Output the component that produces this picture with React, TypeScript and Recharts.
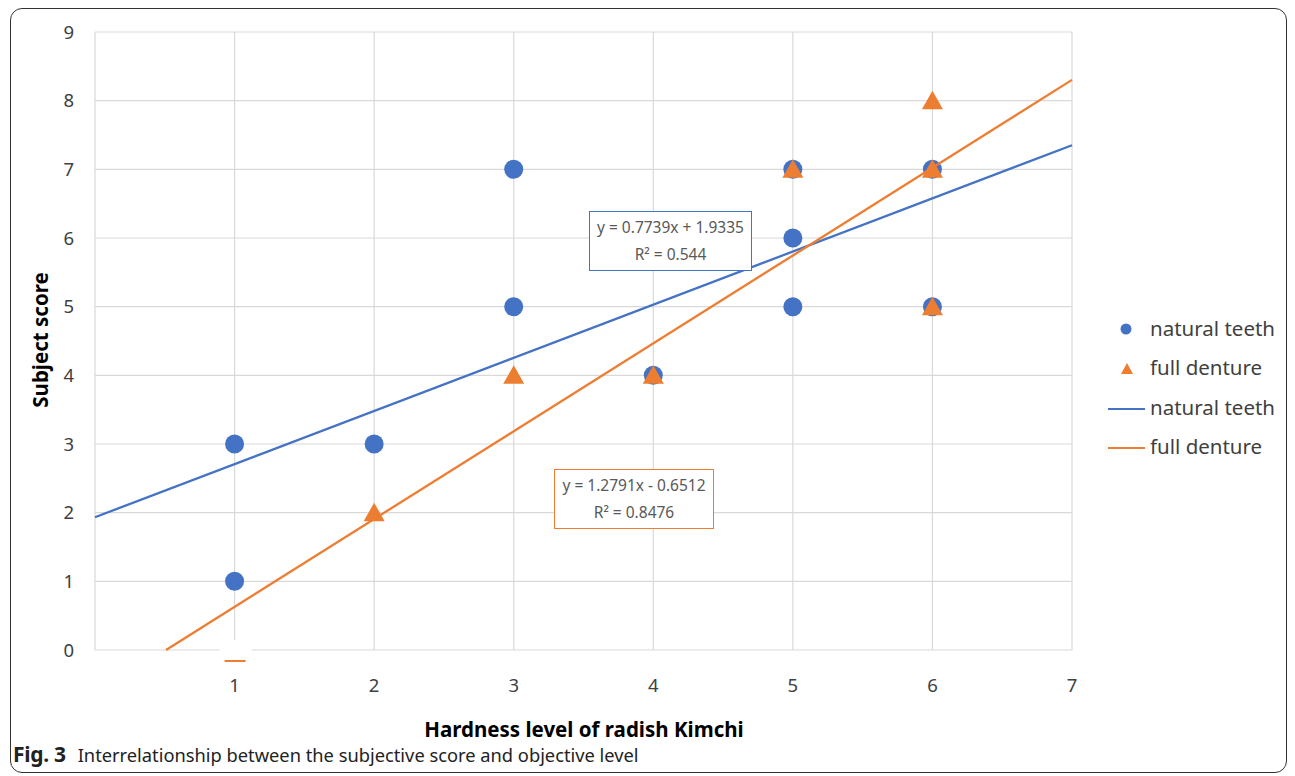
import React from 'react'
import { ScatterChart, Scatter, XAxis, YAxis, CartesianGrid } from 'recharts'

// observed scores
const naturalTeeth = [
  { x: 1, y: 3 }, { x: 1, y: 1 }, { x: 2, y: 3 }, { x: 3, y: 7 }, { x: 3, y: 5 },
  { x: 4, y: 4 }, { x: 5, y: 7 }, { x: 5, y: 6 }, { x: 5, y: 5 }, { x: 6, y: 7 }, { x: 6, y: 5 },
]
const fullDenture = [
  { x: 1, y: 0 }, { x: 2, y: 2 }, { x: 3, y: 4 }, { x: 4, y: 4 },
  { x: 5, y: 7 }, { x: 6, y: 8 }, { x: 6, y: 7 }, { x: 6, y: 5 },
]

// linear trendline end points (from the fitted equations)
const naturalTrend = [{ x: 0, y: 1.9335 }, { x: 7, y: 7.3508 }]
const dentureTrend = [{ x: 0.5091, y: 0 }, { x: 7, y: 8.3025 }]

const xTicks = [0, 1, 2, 3, 4, 5, 6, 7]
const yTicks = [0, 1, 2, 3, 4, 5, 6, 7, 8, 9]

const BLUE = '#4472C4'
const ORANGE = '#ED7D31'
const FONT = '"Noto Sans", "Open Sans", sans-serif'

const Circle = (props: any) => <circle cx={props.cx} cy={props.cy} r={9.5} fill={BLUE} />

const Triangle = (props: any) => {
  const { cx, cy, payload } = props
  if (payload && payload.y === 0) {
    // the marker sitting on the axis is mostly hidden in the original
    return (
      <g>
        <rect x={cx - 15} y={cy - 10} width={32} height={16} fill="#fff" />
        <line x1={cx - 10} x2={cx + 11} y1={cy + 11} y2={cy + 11} stroke={ORANGE} strokeWidth={2} />
      </g>
    )
  }
  return <polygon points={`${cx},${cy - 10} ${cx + 10.5},${cy + 8.5} ${cx - 10.5},${cy + 8.5}`} fill={ORANGE} />
}

const NoDot = () => <g />

const boxText: React.CSSProperties = {
  position: 'absolute',
  fontFamily: FONT,
  fontSize: 15.5,
  color: '#595959',
  textAlign: 'center',
  lineHeight: '27px',
  background: '#fff',
  boxSizing: 'border-box',
  paddingTop: 2,
  whiteSpace: 'nowrap',
}

const legendText: React.CSSProperties = {
  position: 'absolute',
  left: 1150,
  fontFamily: FONT,
  fontSize: 20.5,
  color: '#404040',
  lineHeight: '22px',
}

export default function App() {
  return (
    <div style={{ position: 'absolute', left: 0, top: 0, width: 1295, height: 776, background: '#fff', overflow: 'hidden' }}>
      <div
        style={{
          position: 'absolute', left: 10, top: 8, width: 1277, height: 765,
          border: '1.3px solid #333', borderRadius: 12, boxSizing: 'border-box',
        }}
      />
      <div style={{ position: 'absolute', left: 0, top: 0 }}>
        <ScatterChart width={1295} height={776} margin={{ top: 32, right: 223, bottom: 86, left: 35 }}>
          <CartesianGrid stroke="#d9d9d9" strokeWidth={1.2} />
          <XAxis
            type="number"
            dataKey="x"
            domain={[0, 7]}
            ticks={xTicks}
            tickFormatter={(v: number) => (v === 0 ? '' : String(v))}
            axisLine={false}
            tickLine={false}
            tickSize={0}
            tickMargin={29}
            height={40}
            tick={{ fill: '#404040', fontSize: 18.5, fontFamily: FONT }}
          />
          <YAxis
            type="number"
            dataKey="y"
            domain={[0, 9]}
            ticks={yTicks}
            axisLine={false}
            tickLine={false}
            tickSize={0}
            tickMargin={21}
            width={60}
            tick={{ fill: '#404040', fontSize: 18.5, fontFamily: FONT }}
          />
          <Scatter data={naturalTeeth} shape={Circle} isAnimationActive={false} />
          <Scatter data={fullDenture} shape={Triangle} isAnimationActive={false} />
          <Scatter data={naturalTrend} line={{ stroke: BLUE, strokeWidth: 2.3 }} shape={NoDot} isAnimationActive={false} />
          <Scatter data={dentureTrend} line={{ stroke: ORANGE, strokeWidth: 2.3 }} shape={NoDot} isAnimationActive={false} />
        </ScatterChart>
      </div>

      {/* trendline labels */}
      <div style={{ ...boxText, left: 589, top: 211, width: 163, height: 60, border: `1.3px solid ${BLUE}` }}>
        y = 0.7739x + 1.9335<br />R² = 0.544
      </div>
      <div style={{ ...boxText, left: 554, top: 469, width: 160, height: 60, border: `1.3px solid ${ORANGE}` }}>
        y = 1.2791x - 0.6512<br />R² = 0.8476
      </div>

      {/* axis titles */}
      <div style={{ position: 'absolute', left: 0, width: 1168, top: 715, textAlign: 'center', fontFamily: FONT, fontWeight: 700, fontSize: 20.5, color: '#000' }}>
        Hardness level of radish Kimchi
      </div>
      <div
        style={{
          position: 'absolute', left: 40, top: 340, width: 200, marginLeft: -100, marginTop: -14,
          transform: 'rotate(-90deg)', textAlign: 'center', fontFamily: FONT, fontWeight: 700, fontSize: 20.5, color: '#000',
        }}
      >
        Subject score
      </div>

      {/* legend */}
      <svg style={{ position: 'absolute', left: 1100, top: 310 }} width={50} height={150}>
        <circle cx={26} cy={19} r={5.5} fill={BLUE} />
        <polygon points="27,53 33,64 21,64" fill={ORANGE} />
        <line x1={8} x2={45} y1={99} y2={99} stroke={BLUE} strokeWidth={2} />
        <line x1={8} x2={45} y1={138} y2={138} stroke={ORANGE} strokeWidth={2} />
      </svg>
      <div style={{ ...legendText, top: 317 }}>natural teeth</div>
      <div style={{ ...legendText, top: 356 }}>full denture</div>
      <div style={{ ...legendText, top: 396 }}>natural teeth</div>
      <div style={{ ...legendText, top: 435 }}>full denture</div>

      {/* caption */}
      <div style={{ position: 'absolute', left: 13, top: 741, fontFamily: FONT, color: '#222', whiteSpace: 'nowrap', lineHeight: '26px' }}>
        <b style={{ fontSize: 21, letterSpacing: -0.3 }}>Fig. 3</b>
        <span style={{ fontSize: 18.3, marginLeft: 12 }}>Interrelationship between the subjective score and objective level</span>
      </div>
    </div>
  )
}
